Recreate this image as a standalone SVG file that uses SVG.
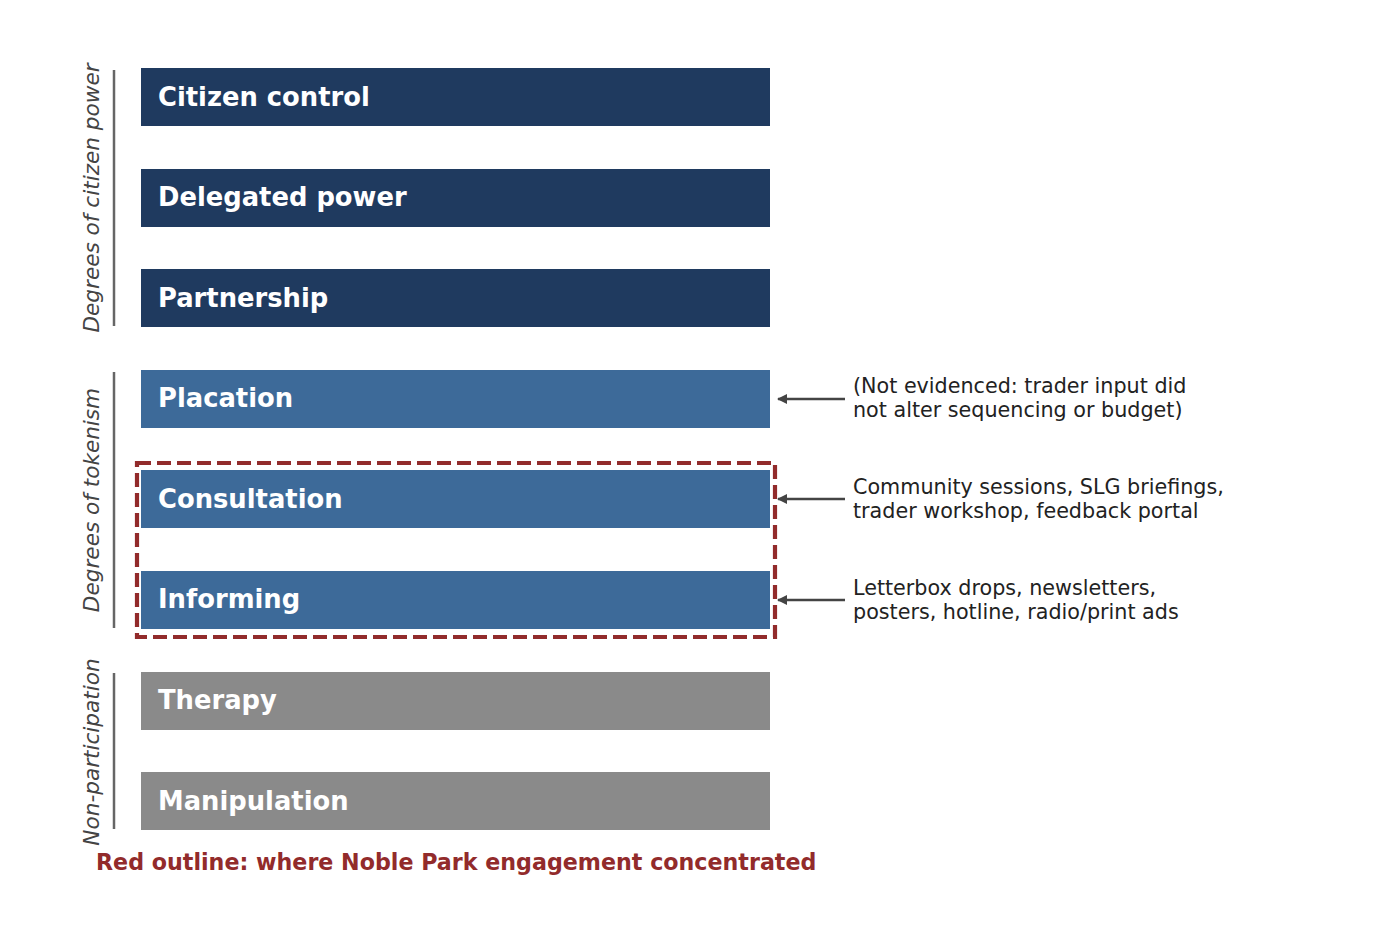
<svg xmlns="http://www.w3.org/2000/svg" width="1400" height="929" viewBox="0 0 1400 929">
<style>
.bar-t{font-family:"DejaVu Sans",sans-serif;font-weight:bold;font-size:25.8px;fill:#ffffff}
.side{font-family:"DejaVu Sans",sans-serif;font-style:italic;font-size:21.6px;fill:#444444}
.ann{font-family:"DejaVu Sans",sans-serif;font-size:20.7px;fill:#222222}
.brk{stroke:#666666;stroke-width:2.5}
.conn{stroke:#444444;stroke-width:2.5;fill:none}
.dark{fill:#1f3a5f}
.mid{fill:#3d6a99}
.gray{fill:#8a8a8a}
</style>
<defs>
<marker id="ah" viewBox="0 0 10 10" refX="9" refY="5" markerWidth="4.4" markerHeight="4" orient="auto-start-reverse" markerUnits="strokeWidth">
<path d="M0,0 L10,5 L0,10 z" fill="#444444"/>
</marker>
</defs>
<rect width="1400" height="929" fill="#ffffff"/>
<g id="bracket-power">
<line class="brk" x1="114" y1="70" x2="114" y2="326"/>
<text class="side" transform="translate(99,198) rotate(-90)" text-anchor="middle">Degrees of citizen power</text>
</g>
<g id="bracket-tokenism">
<line class="brk" x1="114" y1="372" x2="114" y2="628"/>
<text class="side" transform="translate(99,500) rotate(-90)" text-anchor="middle">Degrees of tokenism</text>
</g>
<g id="bracket-nonpart">
<line class="brk" x1="114" y1="673" x2="114" y2="829"/>
<text class="side" transform="translate(99,752) rotate(-90)" text-anchor="middle">Non-participation</text>
</g>
<g id="n-citizen-control"><rect class="dark" x="141" y="68" width="629" height="58"/><text class="bar-t" x="158" y="106">Citizen control</text></g>
<g id="n-delegated-power"><rect class="dark" x="141" y="169" width="629" height="58"/><text class="bar-t" x="158" y="206">Delegated power</text></g>
<g id="n-partnership"><rect class="dark" x="141" y="269" width="629" height="58"/><text class="bar-t" x="158" y="307">Partnership</text></g>
<g id="n-placation"><rect class="mid" x="141" y="370" width="629" height="58"/><text class="bar-t" x="158" y="407">Placation</text></g>
<g id="n-consultation"><rect class="mid" x="141" y="470" width="629" height="58"/><text class="bar-t" x="158" y="508">Consultation</text></g>
<g id="n-informing"><rect class="mid" x="141" y="571" width="629" height="58"/><text class="bar-t" x="158" y="608">Informing</text></g>
<g id="n-therapy"><rect class="gray" x="141" y="672" width="629" height="58"/><text class="bar-t" x="158" y="709">Therapy</text></g>
<g id="n-manipulation"><rect class="gray" x="141" y="772" width="629" height="58"/><text class="bar-t" x="158" y="810">Manipulation</text></g>
<g id="highlight">
<rect x="137" y="463" width="638" height="174" fill="none" stroke="#922b2b" stroke-width="4.2" stroke-dasharray="14,6"/>
</g>
<g id="connectors">
<line class="conn" x1="845" y1="399" x2="778" y2="399" marker-end="url(#ah)"/>
<line class="conn" x1="845" y1="499" x2="778" y2="499" marker-end="url(#ah)"/>
<line class="conn" x1="845" y1="600" x2="778" y2="600" marker-end="url(#ah)"/>
</g>
<g id="annotations">
<text class="ann" x="853" y="393">(Not evidenced: trader input did</text>
<text class="ann" x="853" y="417">not alter sequencing or budget)</text>
<text class="ann" x="853" y="494">Community sessions, SLG briefings,</text>
<text class="ann" x="853" y="518">trader workshop, feedback portal</text>
<text class="ann" x="853" y="595">Letterbox drops, newsletters,</text>
<text class="ann" x="853" y="619">posters, hotline, radio/print ads</text>
</g>
<g id="footer">
<text x="96" y="870" font-family="DejaVu Sans, sans-serif" font-weight="bold" font-size="22.2px" fill="#922b2b">Red outline: where Noble Park engagement concentrated</text>
</g>
</svg>
